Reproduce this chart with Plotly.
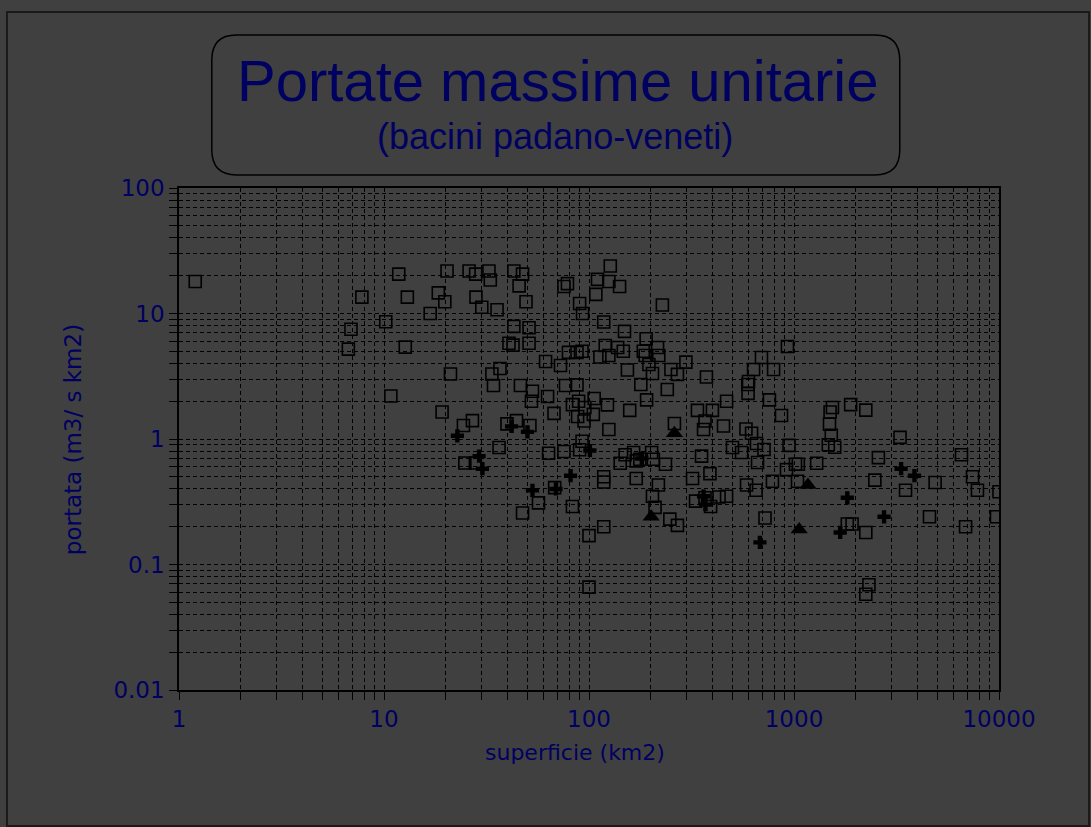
import plotly.graph_objects as go

# superficie (km2) / portata (m3/s km2) - quadrati
sq_area = [1.2, 6.7, 6.9, 7.8, 10.2, 10.8, 11.8, 13, 12.7, 20.3, 26, 28, 32.5, 33, 43, 47.4, 45.6,
           18.4, 19.8, 16.8, 28.1, 30, 35.6, 49.3, 43, 51, 40.7, 42.6, 51, 21.1, 33.6, 36.8, 34.2,
           46.3, 53, 52.4, 62.8, 19.2, 24.4, 27, 39.8, 44.3, 51.5, 67.5, 61.4, 72.6, 75.5, 78.5,
           90, 93, 79.4, 87.4, 92.5, 76.8, 87.4, 83, 89, 95.5, 94.6, 88, 36.4, 24.8, 27.9, 63.5,
           75.5, 92.5, 90, 47.4, 56.7, 83, 68, 100, 100, 127, 110, 125, 141, 108, 228, 118, 149,
           120, 138, 113, 125, 147, 190, 184, 216, 188, 219, 154, 196, 204, 251, 270, 297, 374,
           179, 241, 191, 106, 123, 158, 125, 105, 261, 338, 400, 469, 368, 362, 453, 694, 635,
           795, 600, 597, 595, 759, 869, 929, 583, 621, 501, 555, 656, 714, 664, 946, 919, 1017,
           1040, 587, 653, 785, 722, 354, 389, 320, 331, 368, 431, 469, 392, 150, 142, 165, 177,
           202, 206, 236, 118, 118, 170, 218, 204, 210, 248, 270, 118, 1540, 1500, 1890, 2240,
           1490, 1520, 1470, 1580, 1290, 2580, 3290, 2480, 3500, 4880, 6560, 7430, 7850, 10000,
           4580, 6870, 9720, 1820, 1920, 2240, 2320, 2240, 1050, 170]
sq_q = [18, 5.2, 7.5, 13.5, 8.6, 2.2, 20.6, 13.5, 5.4, 21.8, 21.8, 20.6, 21.8, 18.5, 21.8, 20.6, 16.6,
        14.6, 12.4, 10, 13.5, 11.2, 10.7, 12.4, 7.9, 7.7, 5.8, 5.6, 5.8, 3.3, 3.3, 3.65, 2.67,
        2.67, 2.4, 2.0, 2.18, 1.64, 1.28, 1.4, 1.32, 1.4, 1.28, 1.6, 4.15, 3.85, 16.4, 17.3,
        12, 10, 4.9, 4.9, 5.0, 2.67, 2.7, 1.88, 2.0, 1.78, 1.39, 1.51, 0.855, 0.644, 0.644, 0.77,
        0.795, 0.96, 0.82, 0.257, 0.31, 0.29, 0.41, 0.17, 0.066, 23.9, 18.7, 18, 16.4, 14.2, 11.7, 8.55, 7.2,
        5.56, 5.36, 4.5, 4.63, 5.0, 6.3, 5.0, 5.36, 4.63, 4.63, 3.55, 3.92, 3.33, 3.58, 3.27, 4.1, 3.12,
        2.72, 2.48, 2.05, 2.1, 1.87, 1.69, 1.19, 1.57, 1.33, 1.69, 1.69, 2.0, 1.39, 1.19, 1.27, 4.46, 3.58,
        3.58, 2.87, 2.31, 2.72, 2.05, 1.54, 5.46, 1.2, 1.11, 0.855, 0.78, 0.92, 0.825, 0.65, 0.89, 0.57, 0.63,
        0.46, 0.43, 0.39, 0.46, 0.235, 0.73, 0.53, 0.485, 0.32, 0.34, 0.345, 0.35, 0.29, 0.75, 0.64, 0.78, 0.69,
        0.78, 0.69, 0.63, 0.5, 0.454, 0.485, 0.43, 0.35, 0.285, 0.23, 0.205, 0.2, 1.78, 1.64, 1.88, 1.7,
        1.31, 1.07, 0.9, 0.86, 0.64, 0.71, 1.03, 0.47, 0.39, 0.45, 0.75, 0.5, 0.39, 0.38,
        0.24, 0.2, 0.24, 0.21, 0.21, 0.18, 0.069, 0.058, 0.63, 0.67]

# croci
cr_area = [22.8, 29.1, 30.2, 41.9, 50.1, 53, 69, 81.3, 101, 181, 362, 370, 682, 1820, 1680, 2750, 3330, 3870]
cr_q = [1.06, 0.73, 0.58, 1.26, 1.14, 0.39, 0.40, 0.51, 0.81, 0.70, 0.35, 0.30, 0.15, 0.34, 0.18, 0.24, 0.58, 0.51]

# triangoli
tr_area = [261, 1170, 1060, 201]
tr_q = [1.11, 0.43, 0.19, 0.24]

x_ticks = [1, 2, 3, 4, 5, 6, 7, 8, 9, 10, 20, 30, 40, 50, 60, 70, 80, 90, 100,
           200, 300, 400, 500, 600, 700, 800, 900, 1000, 2000, 3000, 4000, 5000,
           6000, 7000, 8000, 9000, 10000]
x_labels = [str(v) if v in (1, 10, 100, 1000, 10000) else "" for v in x_ticks]
y_ticks = [0.01, 0.02, 0.03, 0.04, 0.05, 0.06, 0.07, 0.08, 0.09, 0.1, 0.2, 0.3, 0.4, 0.5,
           0.6, 0.7, 0.8, 0.9, 1, 2, 3, 4, 5, 6, 7, 8, 9, 10, 20, 30, 40, 50, 60, 70, 80, 90, 100]
y_labels = [{0.01: "0.01", 0.1: "0.1", 1: "1", 10: "10", 100: "100"}.get(v, "") for v in y_ticks]

navy = "#000060"
bg = "#404040"

fig = go.Figure()
fig.add_trace(go.Scatter(x=sq_area, y=sq_q, mode="markers",
                         marker=dict(symbol="square-open", size=12, color="black",
                                     line=dict(width=1.6, color="black"))))
fig.add_trace(go.Scatter(x=cr_area, y=cr_q, mode="markers",
                         marker=dict(symbol="cross", size=11, color="black",
                                     line=dict(width=0))))
fig.add_trace(go.Scatter(x=tr_area, y=tr_q, mode="markers",
                         marker=dict(symbol="triangle-up", size=15, color="black",
                                     line=dict(width=0))))

axis_common = dict(
    type="log", tickmode="array", showgrid=True, gridcolor="black", gridwidth=1,
    griddash="4px,3px", showline=True, linecolor="black", linewidth=1.5, mirror=True,
    ticks="outside", ticklen=8, tickcolor="black", tickwidth=1.2, zeroline=False,
    tickfont=dict(family="DejaVu Sans", size=23, color=navy),
)
fig.update_xaxes(range=[0, 4], tickvals=x_ticks, ticktext=x_labels, **axis_common)
fig.update_yaxes(range=[-2, 2], tickvals=y_ticks, ticktext=y_labels, **axis_common)

fig.update_layout(
    width=1091, height=827, showlegend=False,
    margin=dict(l=179, r=92, t=188, b=137),
    paper_bgcolor=bg, plot_bgcolor=bg,
    font=dict(family="Liberation Sans, Arial", color=navy),
)

# riquadro del titolo con angoli arrotondati
fig.add_shape(type="path", xref="paper", yref="paper",
              path="M 0.070,1.305 L 0.849,1.305 Q 0.879,1.305 0.879,1.255 L 0.879,1.076 "
                   "Q 0.879,1.026 0.849,1.026 L 0.070,1.026 Q 0.040,1.026 0.040,1.076 "
                   "L 0.040,1.255 Q 0.040,1.305 0.070,1.305 Z",
              line=dict(color="black", width=1.5))
# cornice esterna
fig.add_shape(type="rect", xref="paper", yref="paper", x0=-0.2098, x1=1.1098, y0=-0.2709, y1=1.3506,
              line=dict(color="#1a1a1a", width=2))

fig.add_annotation(text="Portate massime unitarie", xref="paper", yref="paper",
                   x=0.461, y=1.215, xanchor="center", yanchor="middle", showarrow=False,
                   font=dict(size=58, color=navy))
fig.add_annotation(text="(bacini padano-veneti)", xref="paper", yref="paper",
                   x=0.459, y=1.103, xanchor="center", yanchor="middle", showarrow=False,
                   font=dict(size=36, color=navy))
fig.add_annotation(text="portata (m3/ s km2)", xref="paper", yref="paper", textangle=-90,
                   x=-0.129, y=0.498, xanchor="center", yanchor="middle", showarrow=False,
                   font=dict(family="DejaVu Sans", size=23, color=navy))
fig.add_annotation(text="superficie (km2)", xref="paper", yref="paper",
                   x=0.483, y=-0.124, xanchor="center", yanchor="middle", showarrow=False,
                   font=dict(family="DejaVu Sans", size=22, color=navy))

fig.write_html("out.html", config={"displayModeBar": False},
               post_script="document.body.style.margin='0px';"
                           "document.body.style.background='%s';" % bg)
